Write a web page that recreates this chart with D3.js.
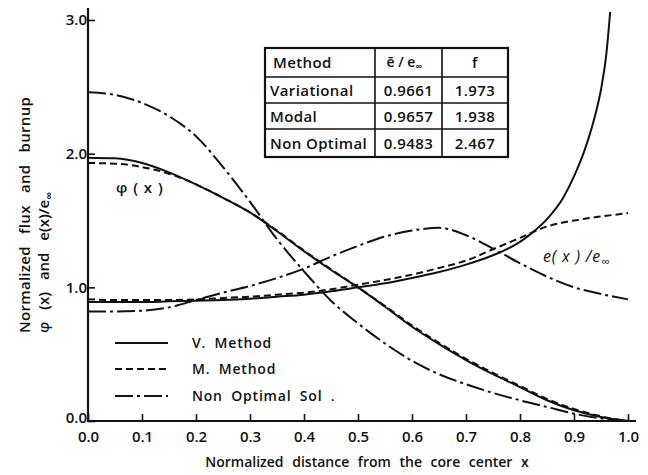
<!DOCTYPE html>
<html>
<head>
<meta charset="utf-8">
<script src="https://cdn.jsdelivr.net/npm/d3@7"></script>
<style>
  html, body { margin: 0; padding: 0; background: #fff; }
  svg { display: block; }
  text { font-family: "Open Sans", "DejaVu Sans", sans-serif; fill: #111; }
</style>
</head>
<body>
<svg id="chart" width="648" height="475"></svg>
<script>
// ---------------- data ----------------
const xGrid = [0, 0.05, 0.1, 0.15, 0.2, 0.25, 0.3, 0.35, 0.4, 0.45, 0.5, 0.55, 0.6, 0.65, 0.7, 0.75, 0.8, 0.85, 0.9, 0.95, 1.0];

// flux phi(x)
const fluxV = [1.97, 1.965, 1.93, 1.86, 1.77, 1.67, 1.56, 1.42, 1.27, 1.13, 1.0, 0.855, 0.705, 0.575, 0.456, 0.35, 0.254, 0.155, 0.08, 0.03, 0];
const fluxM = [1.93, 1.925, 1.90, 1.85, 1.77, 1.67, 1.56, 1.425, 1.275, 1.135, 1.0, 0.86, 0.715, 0.585, 0.465, 0.36, 0.262, 0.165, 0.09, 0.035, 0];
const fluxN = [2.46, 2.44, 2.38, 2.28, 2.13, 1.90, 1.64, 1.36, 1.12, 0.90, 0.73, 0.58, 0.45, 0.35, 0.275, 0.21, 0.155, 0.105, 0.055, 0.02, 0];

// burnup e(x)/e_inf
const eVx = [0, 0.05, 0.1, 0.15, 0.2, 0.25, 0.3, 0.35, 0.4, 0.45, 0.5, 0.55, 0.6, 0.65, 0.7, 0.75, 0.8, 0.82, 0.85, 0.88, 0.9, 0.92, 0.94, 0.95, 0.96, 0.967];
const eV  = [0.89, 0.89, 0.89, 0.895, 0.90, 0.905, 0.915, 0.93, 0.945, 0.97, 1.0, 1.03, 1.07, 1.115, 1.17, 1.24, 1.34, 1.40, 1.51, 1.67, 1.83, 2.03, 2.3, 2.48, 2.75, 3.06];
const eM  = [0.91, 0.905, 0.905, 0.905, 0.91, 0.92, 0.93, 0.945, 0.96, 0.985, 1.02, 1.055, 1.095, 1.145, 1.2, 1.285, 1.37, 1.455, 1.50, 1.53, 1.555];
const eN  = [0.82, 0.82, 0.825, 0.85, 0.905, 0.96, 1.01, 1.07, 1.14, 1.23, 1.31, 1.38, 1.425, 1.445, 1.39, 1.29, 1.18, 1.08, 1.0, 0.95, 0.91];

const xTicks = [0, 0.1, 0.2, 0.3, 0.4, 0.5, 0.6, 0.7, 0.8, 0.9, 1.0];
const xTickLabels = ["0.0", "0.1", "0.2", "0.3", "0.4", "0.5", "0.6", "0.7", "0.8", "0.9", "1.0"];
const yTicks = [0, 1, 2, 3];
const yTickLabels = ["0.0", "1.0", "2.0", "3.0"];

const legendLabels = ["V. Method", "M. Method", "Non Optimal Sol ."];
const tableMethods = ["Variational", "Modal", "Non Optimal"];
const tableE = ["0.9661", "0.9657", "0.9483"];
const tableF = ["1.973", "1.938", "2.467"];

// ---------------- drawing ----------------
const svg = d3.select("#chart");
const x = d3.scaleLinear().domain([0, 1]).range([88, 628]);
const y = d3.scaleLinear().domain([0, 3]).range([421, 20]);

const styles = {
  V: { dash: null },
  M: { dash: "7,4" },
  N: { dash: "18,4,3,4" }
};

const line = d3.line().x(d => x(d[0])).y(d => y(d[1])).curve(d3.curveMonotoneX);
const zip = (xs, ys) => xs.map((v, i) => [v, ys[i]]);

const series = [
  { pts: zip(xGrid, fluxV), s: styles.V },
  { pts: zip(xGrid, fluxM), s: styles.M },
  { pts: zip(xGrid, fluxN), s: styles.N },
  { pts: zip(eVx, eV), s: styles.V },
  { pts: zip(xGrid, eM), s: styles.M },
  { pts: zip(xGrid, eN), s: styles.N }
];

svg.append("g").selectAll("path").data(series).join("path")
  .attr("d", d => line(d.pts))
  .attr("fill", "none")
  .attr("stroke", "#111")
  .attr("stroke-width", 2)
  .attr("stroke-dasharray", d => d.s.dash);

// axes
const xAxis = d3.axisBottom(x).tickValues(xTicks)
  .tickFormat((d, i) => xTickLabels[i]).tickSize(-7).tickPadding(10);
const gx = svg.append("g").attr("transform", `translate(0,${y(0)})`).call(xAxis);
gx.select(".domain").remove();
gx.selectAll(".tick line").attr("stroke", "#111").attr("stroke-width", 1.6);
gx.selectAll(".tick text").attr("font-size", 15).attr("font-weight", 600).style("font-family", '"Open Sans", sans-serif');

const yAxis = d3.axisLeft(y).tickValues(yTicks)
  .tickFormat((d, i) => yTickLabels[i]).tickSize(-7).tickPadding(1);
const gy = svg.append("g").attr("transform", `translate(${x(0)},0)`).call(yAxis);
gy.select(".domain").remove();
gy.selectAll(".tick line").attr("stroke", "#111").attr("stroke-width", 1.6);
gy.selectAll(".tick text").attr("font-size", 15).attr("font-weight", 600).style("font-family", '"Open Sans", sans-serif');
gy.selectAll(".tick text").filter(d => d === 0).attr("dy", "0.1em");

svg.append("line").attr("x1", x(0)).attr("x2", x(1) + 8).attr("y1", y(0)).attr("y2", y(0))
  .attr("stroke", "#111").attr("stroke-width", 2.2);
svg.append("line").attr("x1", x(0)).attr("x2", x(0)).attr("y1", y(0) + 1).attr("y2", 8)
  .attr("stroke", "#111").attr("stroke-width", 2.2);

// axis titles
svg.append("text").attr("x", 367).attr("y", 467).attr("text-anchor", "middle")
  .attr("font-size", 14).attr("font-weight", 600).style("word-spacing", "5px")
  .text("Normalized distance from the core center x");

const yt = svg.append("g").attr("transform", "translate(0,333) rotate(-90)");
yt.append("text").attr("x", 0).attr("y", 30).attr("font-size", 15).attr("font-weight", 600)
  .style("word-spacing", "8px").style("letter-spacing", "0.3px").text("Normalized flux and burnup");
const yt2 = yt.append("text").attr("x", 0).attr("y", 49).attr("font-size", 15).attr("font-weight", 600)
  .style("word-spacing", "8px");
yt2.append("tspan").text("φ (x) and e(x)/e");
yt2.append("tspan").attr("font-size", 11).attr("dy", 4).text("∞");

// curve labels
svg.append("text").attr("x", 116).attr("y", 193).attr("font-size", 15).attr("font-weight", 600)
  .style("letter-spacing", "1px").text("φ ( x )");
const el = svg.append("text").attr("x", 543).attr("y", 262).attr("font-size", 16)
  .attr("font-style", "italic").attr("font-weight", 500).style("letter-spacing", "0.8px");
el.append("tspan").text("e( x ) /e");
el.append("tspan").attr("font-size", 12).attr("dy", 4).text("∞");

// legend
const legY = [343, 369, 396];
const leg = svg.append("g");
legendLabels.forEach((lab, i) => {
  const st = [styles.V, styles.M, styles.N][i];
  leg.append("line").attr("x1", 115).attr("x2", 168).attr("y1", legY[i]).attr("y2", legY[i])
    .attr("stroke", "#111").attr("stroke-width", 2).attr("stroke-dasharray", st.dash);
  leg.append("text").attr("x", 192).attr("y", legY[i] + 5).attr("font-size", 14).attr("font-weight", 600)
    .style("word-spacing", "4px").style("letter-spacing", "0.8px").text(lab);
});

// table
const tb = svg.append("g");
const tL = 265, tR = 508, tT = 48, tB = 157;
const colX = [tL, 375, 442, tR];
const rowY = [tT, 77, 103, 129, tB];
tb.append("rect").attr("x", tL).attr("y", tT).attr("width", tR - tL).attr("height", tB - tT)
  .attr("fill", "#fff").attr("stroke", "#111").attr("stroke-width", 2.2);
[1, 2].forEach(c => tb.append("line").attr("x1", colX[c]).attr("x2", colX[c]).attr("y1", tT).attr("y2", tB)
  .attr("stroke", "#111").attr("stroke-width", 1.6));
[1, 2, 3].forEach(r => tb.append("line").attr("x1", tL).attr("x2", tR).attr("y1", rowY[r]).attr("y2", rowY[r])
  .attr("stroke", "#111").attr("stroke-width", 1.6));

const cellText = (cx, r, txt, anchor) => tb.append("text")
  .attr("x", cx).attr("y", (rowY[r] + rowY[r + 1]) / 2 + 5.5)
  .attr("text-anchor", anchor || "start")
  .attr("font-size", 15).attr("font-weight", 600).style("letter-spacing", "0.4px").text(txt);

cellText(273, 0, "Method");
const h = tb.append("text").attr("x", (colX[1] + colX[2]) / 2 - 4).attr("y", (rowY[0] + rowY[1]) / 2 + 4)
  .attr("text-anchor", "middle").attr("font-size", 14).attr("font-weight", 600);
h.append("tspan").text("ē / e");
h.append("tspan").attr("font-size", 10).attr("dy", 3).text("∞");
cellText((colX[2] + colX[3]) / 2, 0, "f", "middle");
tableMethods.forEach((m, i) => {
  cellText(270, i + 1, m);
  cellText((colX[1] + colX[2]) / 2, i + 1, tableE[i], "middle");
  cellText((colX[2] + colX[3]) / 2, i + 1, tableF[i], "middle");
});
</script>
</body>
</html>
